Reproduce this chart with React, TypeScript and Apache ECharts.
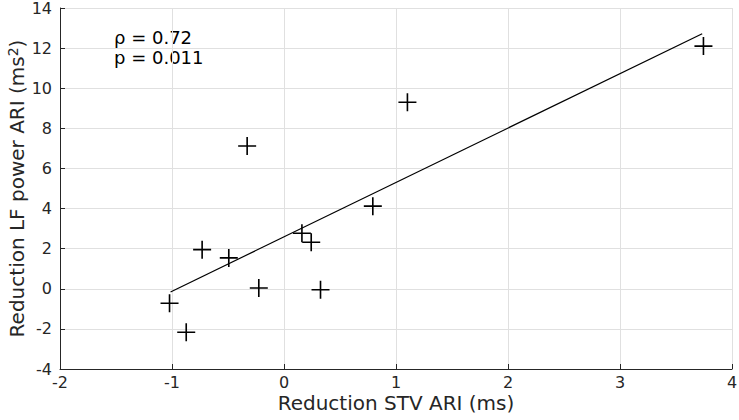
import React, { useEffect, useRef } from "react";
import * as echarts from "echarts";

const xValues = [-1.022, -0.873, -0.731, -0.493, -0.225, -0.329, 0.16, 0.243, 0.326, 0.793, 1.102, 3.745];
const yValues = [-0.72, -2.17, 1.95, 1.54, 0.04, 7.12, 2.77, 2.32, -0.05, 4.12, 9.3, 12.1];
const fitLine = [[-1.013, -0.16], [3.734, 12.72]];
const xTicks = { min: -2, max: 4, interval: 1 };
const yTicks = { min: -4, max: 14, interval: 2 };
const annotations = ["ρ = 0.72", "p = 0.011"];

const TXT = "#262626";
const FONT = "DejaVu Sans";
const PLUS = "path://M-0.09,-1H0.09V-0.09H1V0.09H0.09V1H-0.09V0.09H-1V-0.09H-0.09Z";

export default function App() {
  const ref = useRef<HTMLDivElement>(null);
  useEffect(() => {
    if (!ref.current) return;
    const chart = echarts.init(ref.current, undefined, { renderer: "svg" });
    const axisCommon = {
      axisLine: { show: true, onZero: false, lineStyle: { color: TXT, width: 1 } },
      axisTick: { show: true, inside: true, length: 5, lineStyle: { color: TXT } },
      splitLine: { show: true, lineStyle: { color: "#e0e0e0", width: 1 } },
      nameLocation: "middle" as const,
      nameMoveOverlap: false,
    };
    chart.setOption({
      animation: false,
      textStyle: { fontFamily: FONT },
      grid: { left: 60, right: 7, top: 8, bottom: 51, containLabel: false, outerBoundsMode: "none" },
      xAxis: {
        type: "value",
        ...axisCommon,
        min: xTicks.min,
        max: xTicks.max,
        interval: xTicks.interval,
        name: "Reduction STV ARI (ms)",
        nameGap: 24,
        nameTextStyle: { color: TXT, fontSize: 20, fontFamily: FONT },
        axisLabel: { color: TXT, fontSize: 16, fontFamily: FONT, margin: 5 },
      },
      yAxis: {
        type: "value",
        ...axisCommon,
        min: yTicks.min,
        max: yTicks.max,
        interval: yTicks.interval,
        name: "Reduction LF power ARI (ms{sup|2})",
        nameGap: 32,
        nameTextStyle: {
          color: TXT,
          fontSize: 20,
          fontFamily: FONT,
          rich: {
            sup: { fontSize: 14, color: TXT, fontFamily: FONT, verticalAlign: "top", padding: [0, 0, 8, 0] },
          },
        },
        axisLabel: { color: TXT, fontSize: 16, fontFamily: FONT, margin: 8 },
      },
      series: [
        {
          type: "line",
          data: fitLine,
          symbol: "none",
          lineStyle: { color: "#000", width: 1.2 },
          z: 2,
        },
        {
          type: "scatter",
          data: xValues.map((x, i) => [x, yValues[i]]),
          symbol: PLUS,
          symbolSize: 18,
          itemStyle: { color: "#000", opacity: 1 },
          z: 3,
        },
      ],
      graphic: annotations.map((t, i) => ({
        type: "text",
        left: 114,
        top: 28 + i * 20.6,
        style: { text: t, fill: "#000", fontSize: 18, fontFamily: FONT },
      })),
    });
    return () => chart.dispose();
  }, []);
  return <div ref={ref} style={{ width: 739, height: 420, position: "absolute", left: 0, top: 0 }} />;
}
